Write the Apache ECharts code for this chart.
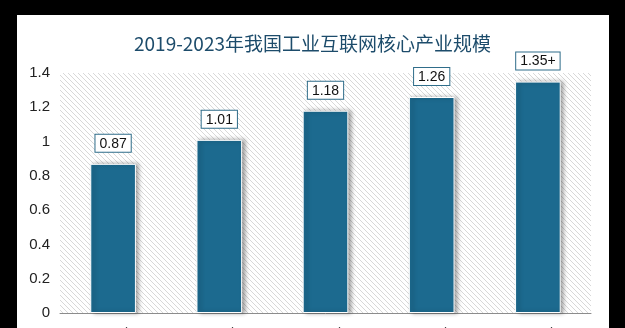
<!DOCTYPE html>
<html><head><meta charset="utf-8">
<script src="https://cdn.jsdelivr.net/npm/echarts@6/dist/echarts.min.js"></script>
<style>html,body{margin:0;padding:0;background:#000;}#c{width:625px;height:328px;}</style>
</head><body><div id="c"></div>
<script>
var categories = ['2019年', '2020年', '2021年', '2022年', '2023年'];
var values = [0.87, 1.01, 1.18, 1.26, 1.35];
var valueLabels = ['0.87', '1.01', '1.18', '1.26', '1.35+'];
var yTicks = {min: 0, max: 1.4, interval: 0.2};
var titleText = '2019-2023年我国工业互联网核心产业规模';

var pc = document.createElement('canvas');
pc.width = 5; pc.height = 5;
var g = pc.getContext('2d');
g.fillStyle = '#ffffff'; g.fillRect(0, 0, 5, 5);
g.strokeStyle = '#d8d8d8'; g.lineWidth = 1;
g.beginPath();
g.moveTo(-1, -1); g.lineTo(6, 6);
g.moveTo(-1, 4); g.lineTo(1, 6);
g.moveTo(4, -1); g.lineTo(6, 1);
g.stroke();

var chart = echarts.init(document.getElementById('c'));
chart.setOption({
  backgroundColor: '#000',
  animation: false,
  graphic: [{type: 'rect', z: -10, shape: {x: 17, y: 15, width: 592, height: 330}, style: {fill: '#fff'}}],
  title: {text: titleText, left: 'center', top: 29, textStyle: {color: '#1d4c6b', fontSize: 19, fontWeight: 'normal', fontFamily: 'Noto Sans CJK SC'}},
  grid: {left: 60, right: 34, top: 73, bottom: 15, containLabel: false, outerBoundsMode: 'none', show: true, borderWidth: 0, backgroundColor: {image: pc, repeat: 'repeat'}},
  xAxis: {type: 'category', data: categories,
    axisLine: {lineStyle: {color: '#8c8c8c', width: 1}}, axisTick: {show: false},
    axisLabel: {color: '#222', fontSize: 15, margin: 14, fontFamily: 'Liberation Sans'}},
  yAxis: {type: 'value', min: yTicks.min, max: yTicks.max, interval: yTicks.interval,
    splitLine: {show: false}, axisLine: {show: false}, axisTick: {show: false},
    axisLabel: {color: '#222', fontSize: 15, margin: 10, fontFamily: 'Liberation Sans'}},
  series: [{type: 'bar', data: values, barWidth: '43%',
    itemStyle: {color: '#1c6a8f', borderColor: '#ffffff', borderWidth: 1, shadowColor: 'rgba(0,0,0,0.35)', shadowBlur: 4, shadowOffsetX: 3, shadowOffsetY: 0},
    label: {show: true, position: 'top', distance: 12,
      formatter: function (p) { return valueLabels[p.dataIndex]; },
      color: '#111', fontSize: 14, fontFamily: 'Liberation Sans',
      backgroundColor: '#fff', borderColor: '#2f6d8a', borderWidth: 1, padding: [2, 4, 1, 4]}
  }]
});
</script></body></html>
